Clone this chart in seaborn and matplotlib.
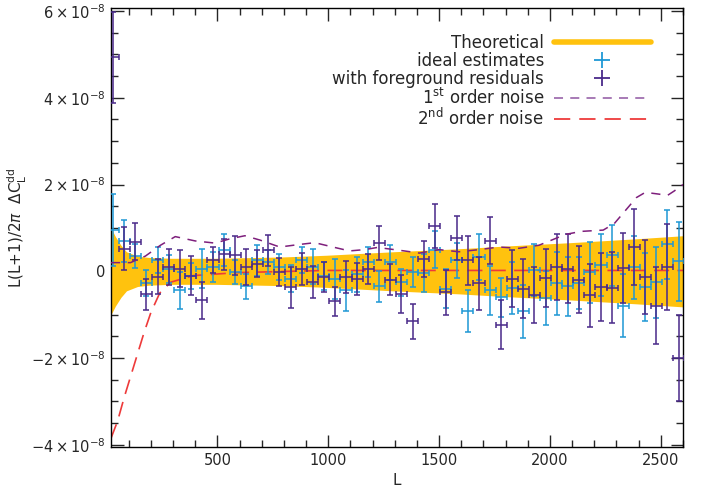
import matplotlib
matplotlib.use('Agg')

import matplotlib.pyplot as plt
import numpy as np
import pandas as pd
import seaborn as sns
from matplotlib.lines import Line2D
from matplotlib.ticker import MultipleLocator, FuncFormatter

# bin centres (multipole L)
bin_L = [30, 80, 130, 180, 230, 280, 330, 380, 430, 480,
         530, 580, 630, 680, 730, 780, 830, 880, 930, 980,
         1030, 1080, 1130, 1180, 1230, 1280, 1330, 1380, 1430, 1480,
         1530, 1580, 1630, 1680, 1730, 1780, 1830, 1880, 1930, 1980,
         2030, 2080, 2130, 2180, 2230, 2280, 2330, 2380, 2430, 2480,
         2530, 2580]
bin_half = 25

# values in units of 1e-8
ideal = [0.95, 0.70, 0.35, -0.27, 0.26, 0.05, -0.44, -0.10, 0.06, 0.10,
         0.50, -0.02, -0.35, 0.25, 0.21, 0.10, -0.17, 0.25, 0.11, -0.10,
         -0.17, -0.44, -0.07, 0.21, -0.35, 0.21, -0.25, -0.02, -0.04, 0.50,
         -0.40, 0.25, -0.92, 0.33, -0.44, -0.60, -0.38, -0.92, 0.04, -0.61,
         -0.28, -0.35, -0.28, -0.02, 0.14, 0.37, -0.79, 0.09, -0.36, -0.25,
         0.62, 0.23]
ideal_err = [0.83, 0.48, 0.27, 0.30, 0.30, 0.33, 0.43, 0.30, 0.45, 0.35,
             0.37, 0.27, 0.29, 0.35, 0.27, 0.30, 0.31, 0.30, 0.40, 0.32,
             0.46, 0.48, 0.41, 0.35, 0.35, 0.40, 0.31, 0.35, 0.44, 0.42,
             0.45, 0.40, 0.48, 0.54, 0.57, 0.45, 0.60, 0.61, 0.60, 0.62,
             0.72, 0.67, 0.60, 0.70, 0.72, 0.70, 0.73, 0.73, 0.78, 0.82,
             0.80, 0.91]
foreground = [4.93, 0.52, 0.68, -0.53, -0.12, 0.10, 0.06, -0.10, -0.67, 0.25,
              0.39, 0.37, 0.10, 0.18, 0.48, -0.02, -0.37, 0.06, -0.25, -0.13,
              -0.69, -0.13, -0.17, 0.06, 0.65, -0.19, -0.53, -1.15, 0.29, 1.04,
              -0.48, 0.76, 0.25, -0.28, 0.71, -1.23, -0.17, -0.40, -0.55, -0.15,
              0.10, 0.06, -0.19, -0.55, -0.36, -0.38, 0.08, 0.56, -0.13, -0.79,
              0.10, -1.99]
foreground_err = [1.05, 0.49, 0.43, 0.36, 0.40, 0.42, 0.42, 0.45, 0.42, 0.30,
                  0.35, 0.45, 0.42, 0.30, 0.36, 0.32, 0.48, 0.37, 0.37, 0.35,
                  0.33, 0.37, 0.37, 0.35, 0.39, 0.35, 0.44, 0.40, 0.42, 0.51,
                  0.52, 0.51, 0.57, 0.62, 0.55, 0.56, 0.65, 0.68, 0.65, 0.67,
                  0.76, 0.79, 0.78, 0.73, 0.79, 0.82, 0.80, 0.88, 0.85, 0.88,
                  0.99, 0.99]

# theoretical band half width
theory_L = [20, 40, 65, 90, 140, 190, 290, 490, 790, 990, 1290, 1590, 1790, 2090, 2390, 2600]
theory_hw = [1.0, 0.8, 0.6, 0.45, 0.35, 0.32, 0.30, 0.30, 0.33, 0.37, 0.45, 0.52, 0.58, 0.66, 0.75, 0.82]

# 1st order noise
noise1_L = [20, 108, 175, 243, 310, 400, 490, 557, 624, 692, 781, 872, 939, 1029, 1096,
            1164, 1222, 1298, 1343, 1411, 1500, 1590, 1680, 1771, 1860, 1950, 2070, 2140,
            2240, 2290, 2340, 2390, 2430, 2490, 2530, 2560, 2600]
noise1 = [0.2, 0.2, 0.35, 0.6, 0.8, 0.7, 0.65, 0.75, 0.82, 0.72, 0.56, 0.62, 0.66, 0.55, 0.47,
          0.5, 0.55, 0.5, 0.47, 0.42, 0.5, 0.45, 0.5, 0.56, 0.53, 0.6, 0.85, 0.92,
          0.95, 1.1, 1.4, 1.7, 1.82, 1.78, 1.75, 1.85, 2.0]

# 2nd order noise
noise2_L = [20, 50, 80, 110, 140, 170, 200, 240, 290, 390, 590, 990, 2600]
noise2 = [-3.85, -3.45, -2.9, -2.4, -1.9, -1.4, -0.95, -0.5, -0.25, -0.1, -0.03, 0.02, 0.02]

gold = '#FFC20E'
blue = '#1F98D5'
purple = '#4A2A8A'
magenta = '#7E1F7C'
red = '#EE3A3A'

scale = 1e-8

sns.set_style('ticks')
plt.rcParams['font.family'] = ['DejaVu Sans']
plt.rcParams['xtick.direction'] = 'in'
plt.rcParams['ytick.direction'] = 'in'
plt.rcParams['xtick.top'] = True
plt.rcParams['ytick.right'] = True

fig = plt.figure(figsize=(7.05, 4.93), dpi=100)
ax = fig.add_axes([0.1574, 0.0933, 0.8114, 0.8905])

th = pd.DataFrame({'L': theory_L, 'hw': np.array(theory_hw) * scale})
ax.fill_between(th['L'], -th['hw'], th['hw'], color=gold, lw=0, zorder=1)

n2 = pd.DataFrame({'L': noise2_L, 'v': np.array(noise2) * scale})
sns.lineplot(data=n2, x='L', y='v', ax=ax, color=red, lw=1.2, zorder=2)
ax.lines[-1].set_dashes([9, 5])

ax.errorbar(bin_L, np.array(ideal) * scale, yerr=np.array(ideal_err) * scale, xerr=bin_half,
            fmt='none', ecolor=blue, elinewidth=1.3, capsize=2.5, capthick=1.3, alpha=0.85, zorder=3)
ax.errorbar(bin_L, np.array(foreground) * scale, yerr=np.array(foreground_err) * scale, xerr=bin_half,
            fmt='none', ecolor=purple, elinewidth=1.3, capsize=2.5, capthick=1.3, alpha=0.85, zorder=4)

n1 = pd.DataFrame({'L': noise1_L, 'v': np.array(noise1) * scale})
sns.lineplot(data=n1, x='L', y='v', ax=ax, color=magenta, lw=1.1, zorder=5)
ax.lines[-1].set_dashes([6, 5])

ax.set_xlim(20, 2600)
ax.set_ylim(-4.05e-8, 6.07e-8)
ax.xaxis.set_major_locator(MultipleLocator(500))
ax.xaxis.set_minor_locator(MultipleLocator(100))
ax.yaxis.set_major_locator(MultipleLocator(2e-8))
ax.yaxis.set_minor_locator(MultipleLocator(0.5e-8))


def yfmt(v, pos):
    n = int(round(v / scale))
    if n == 0:
        return '0'
    return r'$%d\times10^{-8}$' % n


ax.yaxis.set_major_formatter(FuncFormatter(yfmt))
ax.tick_params(which='major', length=9, width=1, labelsize=10.5, pad=4)
ax.tick_params(which='minor', length=5, width=1)
for s in ax.spines.values():
    s.set_linewidth(1)
    s.set_color('black')

ax.set_xlabel('L', fontsize=11)
ax.set_ylabel(r'L(L+1)/2$\pi$  $\Delta$C$_{\rm L}^{\rm dd}$', fontsize=11)
ax.yaxis.set_label_coords(-0.143, 0.5)

handles = [
    Line2D([], [], color=gold, lw=4),
    Line2D([], [], color=blue, marker='+', ls='none', markersize=11, mew=1.3),
    Line2D([], [], color=purple, marker='+', ls='none', markersize=11, mew=1.3),
    Line2D([], [], color='#A070B0', lw=1.3, dashes=[5, 4]),
    Line2D([], [], color=red, lw=1.3, dashes=[9, 5]),
]
labels = ['Theoretical', 'ideal estimates', 'with foreground residuals',
          r'1$^{\rm st}$ order noise', r'2$^{\rm nd}$ order noise']
ax.legend(handles, labels, loc='upper right', bbox_to_anchor=(0.955, 0.957), frameon=False,
          markerfirst=False, handlelength=5.8, fontsize=12, labelspacing=0.0, borderaxespad=0,
          handletextpad=0.6)

fig.savefig('out.png', dpi=100)
